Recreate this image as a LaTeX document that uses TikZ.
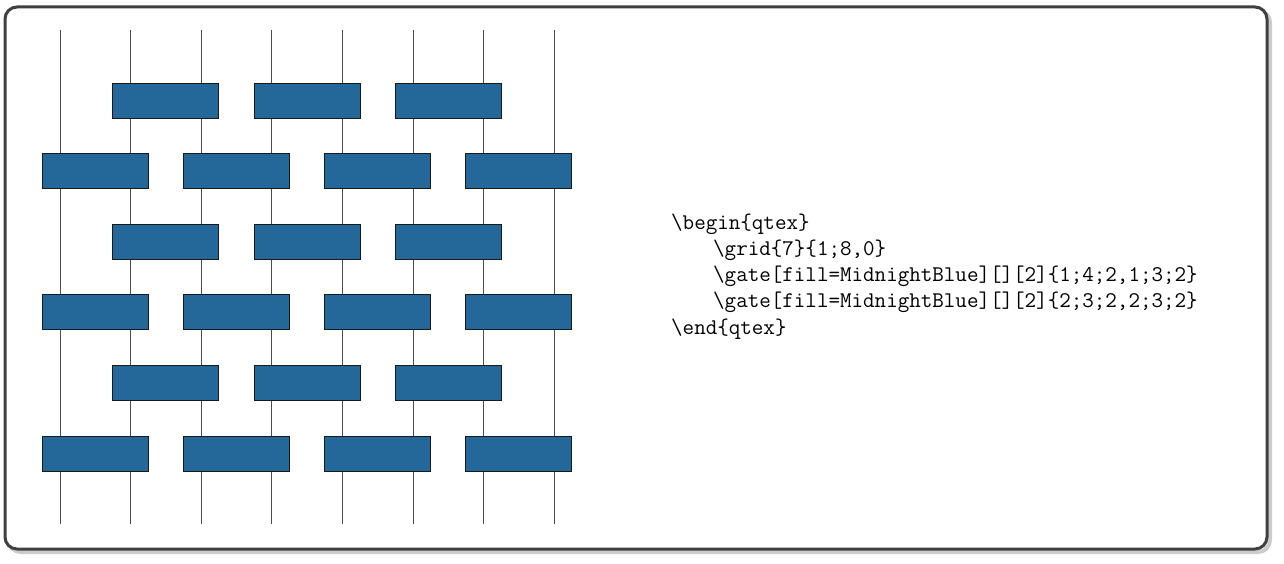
\documentclass[tikz,border=0pt]{standalone}
\definecolor{gatefill}{RGB}{35,104,152}
\definecolor{framecol}{RGB}{64,64,64}
\tikzset{
  wire/.style={draw=black!70, line width=1pt},
  gatebox/.style={draw=black!90, fill=gatefill, line width=0.9pt, minimum width=106pt, minimum height=35pt, inner sep=0pt},
  codeline/.style={anchor=base west, inner sep=0pt, font=\fontsize{22.4}{26}\selectfont\ttfamily}
}
\begin{document}
\begin{tikzpicture}[x=1pt,y=-1pt]
\useasboundingbox (0,0) rectangle (1284,564);
\draw[gray!40, line width=4pt, rounded corners=12pt] (8.5,10.5) rectangle (1270,552);
\draw[fill=white, draw=framecol, line width=3pt, rounded corners=12pt] (5,7) rectangle (1267,549);
\foreach \i in {0,...,7} {
  \coordinate (wt\i) at (60+70.6*\i,30);
  \coordinate (wb\i) at (60+70.6*\i,524);
  \draw[wire] (wt\i) -- (wb\i);
}
\foreach \j in {0,2,4} {
  \foreach \k in {0,1,2} {
    \node[gatebox] (g\j\k) at (165.9+141.2*\k,100.5+70.6*\j) {};
  }
}
\foreach \j in {1,3,5} {
  \foreach \k in {0,1,2,3} {
    \node[gatebox] (g\j\k) at (95.3+141.2*\k,100.5+70.6*\j) {};
  }
}
\node[codeline] (l1) at (671,229) {\textbackslash begin\{qtex\}};
\node[codeline] (l2) at (713,255.25) {\textbackslash grid\{7\}\{1;8,0\}};
\node[codeline] (l3) at (713,281.5) {\textbackslash gate[fill=MidnightBlue][][2]\{1;4;2,1;3;2\}};
\node[codeline] (l4) at (713,307.75) {\textbackslash gate[fill=MidnightBlue][][2]\{2;3;2,2;3;2\}};
\node[codeline] (l5) at (671,334) {\textbackslash end\{qtex\}};
\end{tikzpicture}
\end{document}
